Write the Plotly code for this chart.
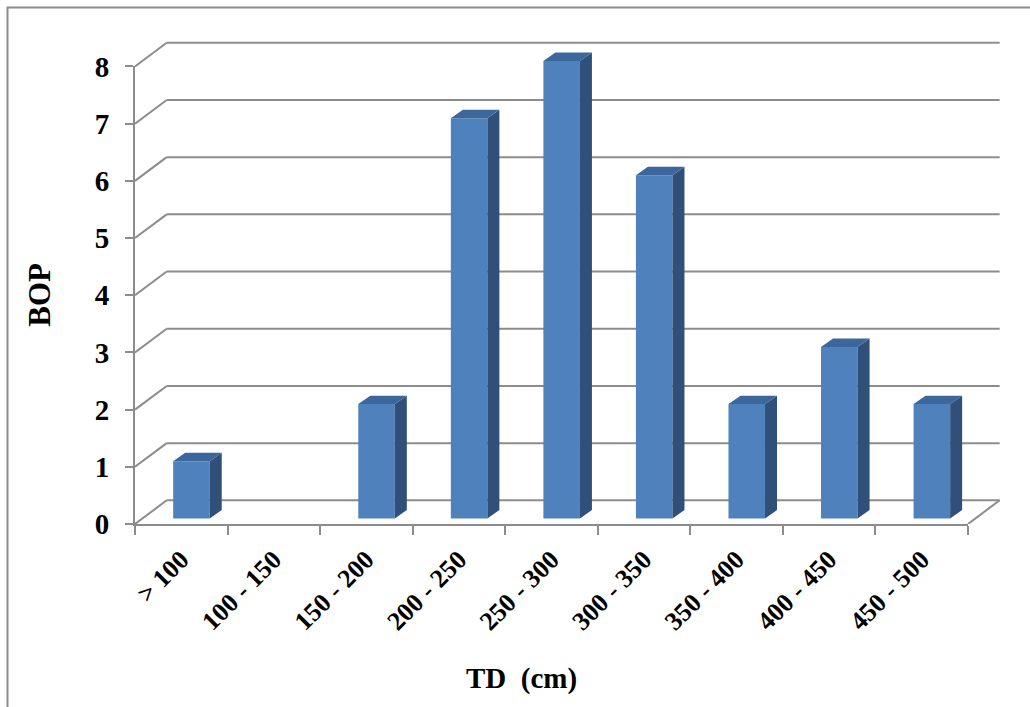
import plotly.graph_objects as go

# ---- data ----
categories = ["> 100", "100 - 150", "150 - 200", "200 - 250", "250 - 300",
              "300 - 350", "350 - 400", "400 - 450", "450 - 500"]
bop_values = [1, 0, 2, 7, 8, 6, 2, 3, 2]
y_tick_values = [0, 1, 2, 3, 4, 5, 6, 7, 8]

# ---- style ----
FRONT = "#4F81BD"
SIDE = "#30507A"
TOP = "#3C679C"
GRID = "#8C8C8C"
FONT = "Liberation Serif, Times New Roman, serif"

# ---- layout geometry (pixels) ----
W_PX, H_PX = 1030, 707
LEFT, RIGHT_EDGE = 135, 1015
TOP_EDGE, BOTTOM = 30, 524.5
PX_PER_CAT = 92.55
PX_PER_UNIT = 57.25

n = len(categories)
ymax_tick = max(y_tick_values)
X_R = (RIGHT_EDGE - LEFT) / PX_PER_CAT
Y_T = (BOTTOM - TOP_EDGE) / PX_PER_UNIT

# 3D projection offsets in axis units
DX = 31.7 / PX_PER_CAT      # back wall depth
DY = 23.7 / PX_PER_UNIT
BAR_SHIFT_X = 0.11          # bar front face offset from category centre
BAR_BASE = 5.5 / PX_PER_UNIT
BAR_W = 0.395
BDX = 12 / PX_PER_CAT       # bar depth
BDY = 8.5 / PX_PER_UNIT

fig = go.Figure()

# front faces of bars
centers = [i + 0.5 + BAR_SHIFT_X for i in range(n)]
fig.add_trace(go.Bar(
    x=centers, y=bop_values, base=[BAR_BASE] * n, width=BAR_W,
    marker=dict(color=FRONT, line=dict(width=0)),
    hoverinfo="skip", showlegend=False))

# side and top faces
side_x, side_y, top_x, top_y = [], [], [], []
for c, v in zip(centers, bop_values):
    if v <= 0:
        continue
    xl, xr = c - BAR_W / 2, c + BAR_W / 2
    yb, yt = BAR_BASE, BAR_BASE + v
    side_x += [xr, xr + BDX, xr + BDX, xr, xr, None]
    side_y += [yb, yb + BDY, yt + BDY, yt, yb, None]
    top_x += [xl, xl + BDX, xr + BDX, xr, xl, None]
    top_y += [yt, yt + BDY, yt + BDY, yt, yt, None]
fig.add_trace(go.Scatter(x=side_x, y=side_y, mode="lines", fill="toself",
                         fillcolor=SIDE, line=dict(width=0, color=SIDE),
                         hoverinfo="skip", showlegend=False))
fig.add_trace(go.Scatter(x=top_x, y=top_y, mode="lines", fill="toself",
                         fillcolor=TOP, line=dict(width=0, color=TOP),
                         hoverinfo="skip", showlegend=False))

# dummy trace to render the visible axes
fig.add_trace(go.Scatter(x=[0], y=[0], xaxis="x2", yaxis="y2", mode="markers",
                         marker=dict(opacity=0), hoverinfo="skip", showlegend=False))

# back wall gridlines and side wall diagonals (below traces)
shapes = []
for t in y_tick_values:
    shapes.append(dict(type="line", xref="x", yref="y", x0=DX, x1=n + DX,
                       y0=t + DY, y1=t + DY, layer="below",
                       line=dict(color=GRID, width=2)))
    shapes.append(dict(type="line", xref="x", yref="y", x0=0, x1=DX,
                       y0=t, y1=t + DY, layer="below",
                       line=dict(color=GRID, width=2)))
# floor right diagonal
shapes.append(dict(type="line", xref="x", yref="y", x0=n, x1=n + DX,
                   y0=0, y1=DY, layer="below", line=dict(color=GRID, width=2)))

# outer border
plot_w = RIGHT_EDGE - LEFT
plot_h = BOTTOM - TOP_EDGE
shapes.append(dict(type="rect", xref="paper", yref="paper",
                   x0=(7.5 - LEFT) / plot_w, x1=(1045 - LEFT) / plot_w,
                   y0=(BOTTOM - 730) / plot_h, y1=(BOTTOM - 7.5) / plot_h,
                   line=dict(color=GRID, width=2), fillcolor="rgba(0,0,0,0)"))

fig.update_layout(
    template="none",
    width=W_PX, height=H_PX,
    margin=dict(l=LEFT, r=W_PX - RIGHT_EDGE, t=TOP_EDGE, b=H_PX - BOTTOM, autoexpand=False),
    paper_bgcolor="white", plot_bgcolor="rgba(0,0,0,0)",
    showlegend=False,
    xaxis=dict(range=[0, X_R], visible=False, domain=[0, 1], anchor="y"),
    yaxis=dict(range=[0, Y_T], visible=False, domain=[0, 1], anchor="x"),
    xaxis2=dict(range=[0, n], domain=[0, n / X_R], anchor="y2",
                showline=True, linecolor=GRID, linewidth=2,
                showgrid=False, zeroline=False,
                tickmode="array", tickvals=[i + 0.5 for i in range(n)],
                ticktext=categories, ticks="", tickangle=-45,
                tickfont=dict(family=FONT, size=26, color="black", weight="bold"),
                ticklabelstandoff=8,
                minor=dict(tickmode="linear", tick0=0, dtick=1, ticks="outside",
                           ticklen=9, tickwidth=2, tickcolor=GRID),
                automargin=False),
    yaxis2=dict(range=[0, ymax_tick], domain=[0, ymax_tick / Y_T], anchor="x2",
                showline=True, linecolor=GRID, linewidth=2,
                showgrid=False, zeroline=False,
                tickmode="array", tickvals=y_tick_values,
                ticks="outside", ticklen=8, tickwidth=2, tickcolor=GRID,
                tickfont=dict(family=FONT, size=29, color="black", weight="bold"),
                ticklabelstandoff=10,
                automargin=False),
    shapes=shapes,
    annotations=[
        dict(text="BOP", xref="paper", yref="paper",
             x=(40 - LEFT) / plot_w, y=(BOTTOM - 295) / plot_h,
             textangle=-90, showarrow=False, xanchor="center", yanchor="middle",
             font=dict(family=FONT, size=31, color="black", weight="bold")),
        dict(text="TD  (cm)", xref="paper", yref="paper",
             x=(521 - LEFT) / plot_w, y=(BOTTOM - 679) / plot_h,
             showarrow=False, xanchor="center", yanchor="middle",
             font=dict(family=FONT, size=29, color="black", weight="bold")),
    ],
)

fig.write_html("out.html", config={"displayModeBar": False},
               post_script="document.body.style.margin='0';document.body.style.overflow='hidden';")
